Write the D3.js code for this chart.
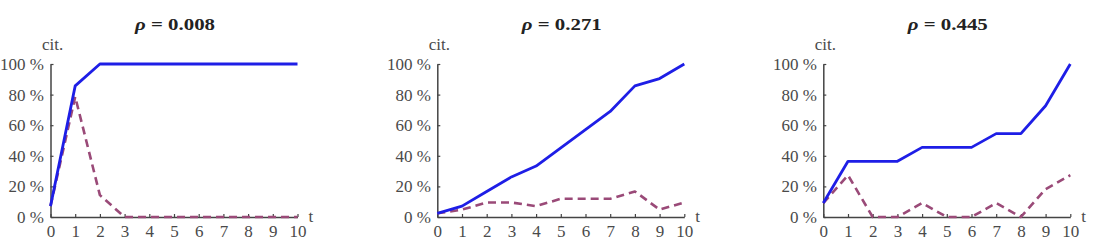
<!DOCTYPE html>
<html>
<head>
<meta charset="utf-8">
<script src="https://cdn.jsdelivr.net/npm/d3@7"></script>
<style>
  body { margin: 0; background: #fff; }
  svg { display: block; }
  .serif { font-family: "Times New Roman", "Liberation Serif", Times, serif; }
  .tick text { font-family: "Times New Roman", "Liberation Serif", Times, serif; font-size: 17px; fill: #4a4a4a; }
</style>
</head>
<body>
<div id="chart"></div>
<script>
// time steps and y ticks
var steps = [0, 1, 2, 3, 4, 5, 6, 7, 8, 9, 10];
var yTicks = [0, 20, 40, 60, 80, 100];
var rhos = ["0.008", "0.271", "0.445"];

// cumulative share of citations (solid) and share per step (dashed), in %
var cum1 = [7.1, 85.7, 100, 100, 100, 100, 100, 100, 100, 100, 100];
var per1 = [7.1, 78.6, 14.3, 0, 0, 0, 0, 0, 0, 0, 0];
var cum2 = [2.4, 7.1, 16.7, 26.2, 33.3, 45.2, 57.1, 69.0, 85.7, 90.5, 100];
var per2 = [2.4, 4.8, 9.5, 9.5, 7.1, 11.9, 11.9, 11.9, 16.7, 4.8, 9.5];
var cum3 = [9.1, 36.4, 36.4, 36.4, 45.5, 45.5, 45.5, 54.5, 54.5, 72.7, 100];
var per3 = [9.1, 27.3, 0, 0, 9.1, 0, 0, 9.1, 0, 18.2, 27.3];

var panels = [
    {rho: rhos[0], cum: cum1, per: per1, left: 50.5},
    {rho: rhos[1], cum: cum2, per: per2, left: 437.3},
    {rho: rhos[2], cum: cum3, per: per3, left: 823.3}
];

var W = 1098, H = 251;
var plotTop = 64, plotBottom = 217, pw = 247;

var svg = d3.select("#chart").append("svg")
    .attr("width", W)
    .attr("height", H);

var x = d3.scaleLinear().domain([0, 10]).range([0, pw]);
var y = d3.scaleLinear().domain([0, 100]).range([plotBottom, plotTop]);

var line = d3.line()
    .x(function (d, i) { return x(steps[i]); })
    .y(function (d) { return y(d); });

panels.forEach(function (p) {
    var g = svg.append("g").attr("transform", "translate(" + p.left + ",0)");

    // title
    var t = g.append("text")
        .attr("class", "serif")
        .attr("x", pw / 2 + 1)
        .attr("y", 29.5)
        .attr("text-anchor", "middle")
        .attr("textLength", 80)
        .attr("lengthAdjust", "spacingAndGlyphs")
        .style("font-weight", "bold")
        .style("font-size", "17px")
        .style("fill", "#222");
    t.append("tspan").style("font-style", "italic").text("ρ");
    t.append("tspan").text(" = " + p.rho);

    // y axis
    g.append("g")
        .call(d3.axisLeft(y).tickValues(yTicks).tickSize(-3).tickSizeOuter(0).tickPadding(6.5)
            .tickFormat(function (d) { return d + " %"; }))
        .call(function (a) { a.select(".domain").attr("stroke", "#444").attr("stroke-width", 1.5); })
        .call(function (a) { a.selectAll(".tick line").attr("stroke", "#444").attr("stroke-width", 1.2); });

    // x axis
    g.append("g")
        .attr("transform", "translate(0," + plotBottom + ")")
        .call(d3.axisBottom(x).tickValues(steps).tickSize(-3).tickSizeOuter(0).tickPadding(8))
        .call(function (a) { a.select(".domain").attr("stroke", "#444").attr("stroke-width", 1.5); })
        .call(function (a) { a.selectAll(".tick line").attr("stroke", "#444").attr("stroke-width", 1.2); });

    // axis names
    g.append("text")
        .attr("class", "serif")
        .attr("x", -8.5)
        .attr("y", 50)
        .style("font-size", "17px")
        .style("fill", "#4a4a4a")
        .text("cit.");
    g.append("text")
        .attr("class", "serif")
        .attr("x", pw + 11)
        .attr("y", 222)
        .style("font-size", "17px")
        .style("fill", "#4a4a4a")
        .text("t");

    // dashed: share per step
    g.append("path")
        .datum(p.per)
        .attr("d", line)
        .attr("fill", "none")
        .attr("stroke", "#9a4a78")
        .attr("stroke-width", 2.6)
        .attr("stroke-dasharray", "8,5")
        .attr("stroke-linejoin", "round");

    // solid: cumulative share
    g.append("path")
        .datum(p.cum)
        .attr("d", line)
        .attr("fill", "none")
        .attr("stroke", "#1e1ee6")
        .attr("stroke-width", 2.8)
        .attr("stroke-linejoin", "round");
});
</script>
</body>
</html>
